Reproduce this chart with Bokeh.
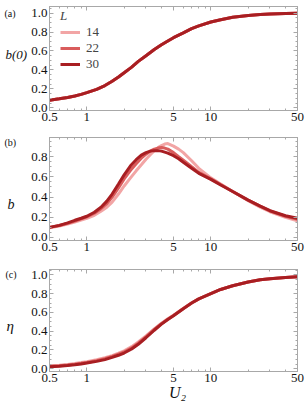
from bokeh.plotting import figure
from bokeh.layouts import column
from bokeh.models import (FixedTicker, LinearAxis, LogAxis, Label, Legend, LegendItem,
                          NumeralTickFormatter, Range1d, GridBox)
from bokeh.embed import file_html
from bokeh.resources import INLINE

# ---------------- data ----------------
L_values = ["14", "22", "30"]
colors = ["#f2a5a5", "#d95c5c", "#a81e22"]

U_a = [0.5, 0.6, 0.7, 0.8, 0.9, 1, 1.2, 1.4, 1.6, 1.8, 2, 2.3, 2.6, 3, 3.5, 4, 4.5, 5,
       6, 7, 8, 10, 12, 15, 20, 25, 30, 40, 50]
b0_14 = [0.08, 0.095, 0.11, 0.125, 0.142, 0.16, 0.195, 0.235, 0.28, 0.325, 0.37, 0.43, 0.49,
         0.55, 0.615, 0.665, 0.705, 0.74, 0.79, 0.835, 0.865, 0.905, 0.93, 0.955, 0.975,
         0.985, 0.99, 0.995, 0.997]
b0_22 = [0.08, 0.095, 0.11, 0.125, 0.142, 0.16, 0.195, 0.235, 0.28, 0.325, 0.37, 0.43, 0.49,
         0.55, 0.615, 0.665, 0.705, 0.74, 0.79, 0.835, 0.865, 0.905, 0.93, 0.955, 0.975,
         0.985, 0.99, 0.995, 0.997]
b0_30 = [0.08, 0.095, 0.11, 0.125, 0.142, 0.16, 0.195, 0.235, 0.28, 0.325, 0.37, 0.43, 0.49,
         0.55, 0.615, 0.665, 0.705, 0.74, 0.79, 0.835, 0.865, 0.905, 0.93, 0.955, 0.975,
         0.985, 0.99, 0.995, 0.997]

U_b = [0.5, 0.6, 0.7, 0.8, 0.9, 1, 1.15, 1.3, 1.45, 1.6, 1.8, 2, 2.25, 2.5, 2.75, 3, 3.25,
       3.5, 3.75, 4, 4.25, 4.5, 5, 5.5, 6, 7, 8, 10, 12, 15, 20, 25, 30, 40, 50]
b_14 = [0.095, 0.113, 0.133, 0.153, 0.172, 0.19, 0.22, 0.26, 0.30, 0.35, 0.43, 0.51, 0.59,
        0.66, 0.72, 0.775, 0.82, 0.86, 0.89, 0.91, 0.925, 0.93, 0.905, 0.875, 0.84, 0.76,
        0.685, 0.59, 0.53, 0.455, 0.365, 0.30, 0.255, 0.20, 0.165]
b_22 = [0.10, 0.118, 0.14, 0.162, 0.185, 0.205, 0.24, 0.285, 0.335, 0.40, 0.49, 0.58, 0.665,
        0.73, 0.785, 0.825, 0.855, 0.875, 0.885, 0.89, 0.885, 0.875, 0.84, 0.80, 0.765, 0.70,
        0.645, 0.58, 0.525, 0.455, 0.37, 0.31, 0.263, 0.21, 0.18]
b_30 = [0.10, 0.12, 0.145, 0.17, 0.19, 0.21, 0.25, 0.30, 0.36, 0.43, 0.53, 0.62, 0.71, 0.77,
        0.815, 0.84, 0.855, 0.86, 0.86, 0.855, 0.845, 0.835, 0.81, 0.78, 0.745, 0.685, 0.635,
        0.575, 0.52, 0.455, 0.37, 0.31, 0.265, 0.215, 0.19]

U_c = [0.5, 0.6, 0.7, 0.8, 0.9, 1, 1.2, 1.4, 1.6, 1.8, 2, 2.3, 2.6, 3, 3.5, 4, 4.5, 5,
       6, 7, 8, 10, 12, 15, 20, 25, 30, 40, 50]
eta_14 = [0.03, 0.038, 0.046, 0.055, 0.065, 0.075, 0.095, 0.117, 0.14, 0.165, 0.19, 0.235,
          0.285, 0.35, 0.425, 0.485, 0.532, 0.57, 0.643, 0.70, 0.745, 0.80, 0.845, 0.885,
          0.925, 0.948, 0.96, 0.973, 0.98]
eta_22 = [0.025, 0.032, 0.04, 0.048, 0.057, 0.067, 0.086, 0.107, 0.13, 0.154, 0.178, 0.222,
          0.272, 0.34, 0.418, 0.48, 0.528, 0.567, 0.641, 0.70, 0.745, 0.80, 0.845, 0.885,
          0.925, 0.948, 0.96, 0.973, 0.98]
eta_30 = [0.02, 0.027, 0.034, 0.042, 0.05, 0.06, 0.078, 0.097, 0.12, 0.143, 0.167, 0.21,
          0.26, 0.33, 0.41, 0.475, 0.525, 0.565, 0.64, 0.70, 0.745, 0.80, 0.845, 0.885,
          0.925, 0.948, 0.96, 0.973, 0.98]

x_ticks = [0.5, 1, 5, 10, 50]
x_minor = [0.6, 0.7, 0.8, 0.9, 2, 3, 4, 6, 7, 8, 9, 20, 30, 40]
y_ticks = [0.0, 0.2, 0.4, 0.6, 0.8, 1.0]
y_minor = [-0.05, 0.05, 0.1, 0.15, 0.25, 0.3, 0.35, 0.45, 0.5, 0.55, 0.65, 0.7, 0.75,
           0.85, 0.9, 0.95, 1.05]

FONT = "Liberation Serif"
FRAME_COLOR = "#a8a8a8"
PAGE_W, PAGE_H = 307, 408
BORDER_L = 49
BORDER_R = 10


def tick_style(ax, major_len=4, minor_len=2):
    ax.axis_line_color = FRAME_COLOR
    ax.major_tick_line_color = FRAME_COLOR
    ax.minor_tick_line_color = FRAME_COLOR
    ax.major_tick_in = major_len
    ax.major_tick_out = 0
    ax.minor_tick_in = minor_len
    ax.minor_tick_out = 0
    ax.major_label_text_font = FONT
    ax.major_label_text_color = "#111111"
    ax.major_label_text_font_size = "13px"
    ax.major_label_standoff = 2


def make_panel(ys, U, yr, frame_h, top, bottom):
    p = figure(width=PAGE_W, height=top + frame_h + bottom, x_axis_type="log",
               x_range=Range1d(0.5, 50), y_range=Range1d(*yr),
               output_backend="svg", toolbar_location=None,
               min_border_left=BORDER_L, min_border_right=BORDER_R,
               min_border_top=top, min_border_bottom=bottom)
    p.grid.visible = False
    p.background_fill_color = "white"
    p.border_fill_color = "white"
    p.outline_line_color = FRAME_COLOR
    p.outline_line_width = 1

    xa = p.xaxis[0]
    xa.ticker = FixedTicker(ticks=x_ticks, minor_ticks=x_minor)
    xa.formatter = NumeralTickFormatter(format="0.[0]")
    tick_style(xa)
    ya = p.yaxis[0]
    ya.ticker = FixedTicker(ticks=y_ticks, minor_ticks=y_minor)
    ya.formatter = NumeralTickFormatter(format="0.0")
    tick_style(ya)

    # unlabelled tick marks on the top and right frame edges
    top_major = LogAxis(ticker=FixedTicker(ticks=[], minor_ticks=x_ticks))
    top_minor = LogAxis(ticker=FixedTicker(ticks=[], minor_ticks=x_minor))
    right_major = LinearAxis(ticker=FixedTicker(ticks=[], minor_ticks=y_ticks))
    right_minor = LinearAxis(ticker=FixedTicker(ticks=[], minor_ticks=y_minor))
    for ax, ln in ((top_major, 4), (top_minor, 2), (right_major, 4), (right_minor, 2)):
        tick_style(ax, major_len=0, minor_len=ln)
        ax.major_label_standoff = 0
    p.add_layout(top_major, "above")
    p.add_layout(top_minor, "above")
    p.add_layout(right_major, "right")
    p.add_layout(right_minor, "right")

    renderers = []
    for y, c in zip(ys, colors):
        r = p.line(U, y, line_color=c, line_width=3)
        renderers.append(r)
    return p, renderers


# panel (a): page y 0..136, frame 6..110
pa, ra = make_panel([b0_14, b0_22, b0_30], U_a, (-0.028, 1.069), 104, 6, 26)
legend = Legend(items=[LegendItem(label=l, renderers=[r]) for l, r in zip(L_values, ra)],
                location=(11, 38), title="L")
legend.title_text_font = FONT
legend.title_text_font_style = "italic"
legend.title_text_font_size = "13px"
legend.title_standoff = -3
legend.label_text_font = FONT
legend.label_text_font_size = "13px"
legend.glyph_width = 20
legend.glyph_height = 14
legend.label_height = 14
legend.label_standoff = 6
legend.spacing = 0
legend.padding = 0
legend.margin = 0
legend.background_fill_alpha = 0
legend.border_line_color = None
pa.add_layout(legend)

# panel (b): page y 136..268, frame 137..240
pb, rb = make_panel([b_14, b_22, b_30], U_b, (-0.03, 0.99), 103, 1, 28)

# panel (c): page y 268..408, frame 269..371
pc, rc = make_panel([eta_14, eta_22, eta_30], U_c, (-0.03, 1.058), 102, 1, 37)

panels = column(pa, pb, pc, spacing=0)

# transparent overlay (page pixel coordinates) carrying the texts outside the frames
ov = figure(width=PAGE_W, height=PAGE_H, x_range=Range1d(0, PAGE_W), y_range=Range1d(PAGE_H, 0),
            x_axis_location=None, y_axis_location=None, toolbar_location=None,
            output_backend="svg", min_border=0, min_border_left=0, min_border_right=0,
            min_border_top=0, min_border_bottom=0)
ov.grid.visible = False
ov.outline_line_color = None
ov.background_fill_alpha = 0
ov.border_fill_alpha = 0

texts = [
    # text, left/centre x, centre y, size, style, align
    ("(a)", 4, 13, "10px", "normal", "left"),
    ("b(0)", 5, 54, "13px", "italic", "left"),
    ("(b)", 4, 142, "10px", "normal", "left"),
    ("b", 7, 204, "14px", "italic", "left"),
    ("(c)", 5, 274, "10px", "normal", "left"),
    ("η", 6, 325, "15px", "italic", "left"),
    ("U₂", 177, 392, "16px", "italic", "center"),
]
for t, x, y, size, style, align in texts:
    ov.add_layout(Label(x=x, y=y, text=t, text_font=FONT, text_font_size=size,
                        text_font_style=style, text_align=align, text_baseline="middle",
                        text_color="#111111"))

layout = GridBox(children=[(panels, 0, 0), (ov, 0, 0)])
open("out.html", "w").write(file_html(layout, INLINE))
